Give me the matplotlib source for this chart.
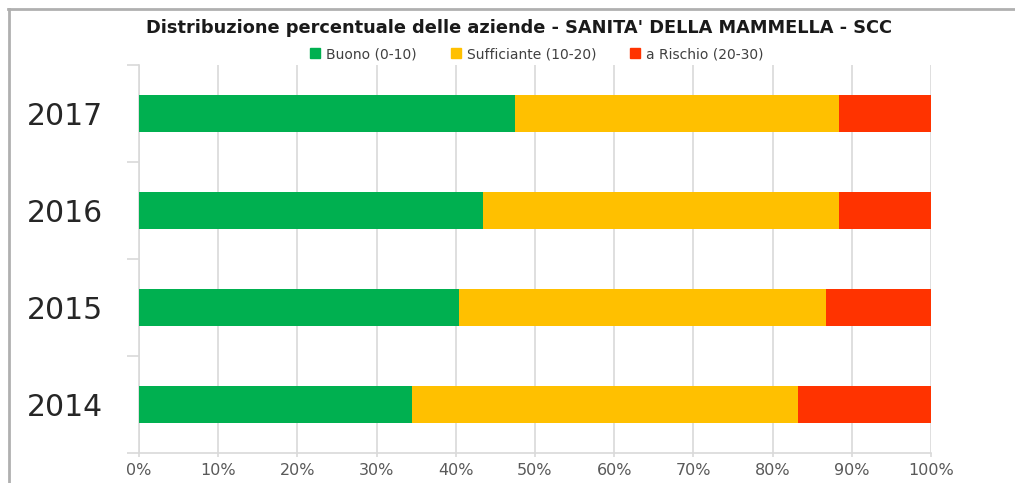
import matplotlib
matplotlib.use('Agg')
import matplotlib.pyplot as plt
from matplotlib.lines import Line2D
from matplotlib.ticker import FixedLocator, PercentFormatter

# share of farms per class (percent of total)
years = ['2014', '2015', '2016', '2017']
buono = [34.5, 40.4, 43.4, 47.5]
sufficiente = [48.7, 46.3, 45.0, 40.9]
rischio = [16.8, 13.3, 11.6, 11.6]

series_labels = ['Buono (0-10)', 'Sufficiante (10-20)', 'a Rischio (20-30)']
colors = ['#00B050', '#FFC000', '#FF3300']
title = "Distribuzione percentuale delle aziende - SANITA' DELLA MAMMELLA - SCC"

GRID = '#D9D9D9'

fig = plt.figure(figsize=(10.15, 4.83), dpi=100)
ax = fig.add_axes([139 / 1015, 1 - 453 / 483, (931 - 139) / 1015, (453 - 65) / 483])

pos = list(range(len(years)))
left = [0.0] * len(years)
for vals, c, lab in zip([buono, sufficiente, rischio], colors, series_labels):
    ax.barh(pos, vals, left=left, height=0.39, color=c, label=lab, zorder=3)
    left = [a + b for a, b in zip(left, vals)]

ax.set_xlim(0, 100)
ax.set_ylim(-0.5, len(years) - 0.5)
ax.set_xticks(range(0, 101, 10))
ax.xaxis.set_major_formatter(PercentFormatter(decimals=0))
ax.grid(True, axis='x', color=GRID, linewidth=1.2, zorder=0)
ax.set_axisbelow(True)

ax.set_yticks(pos)
ax.set_yticklabels(years)
ax.yaxis.set_minor_locator(FixedLocator([p - 0.5 for p in range(len(years) + 1)]))
ax.tick_params(axis='y', which='major', length=0, pad=26, labelsize=21.5, labelcolor='#262626')
ax.tick_params(axis='y', which='minor', length=9, width=1.2, color=GRID)
ax.tick_params(axis='x', length=3, width=1.2, color=GRID, labelsize=11.5, labelcolor='#595959', pad=4)

for side in ('top', 'right'):
    ax.spines[side].set_visible(False)
for side in ('left', 'bottom'):
    ax.spines[side].set_color(GRID)
    ax.spines[side].set_linewidth(1.2)

fig.text(0.511, 0.942, title, ha='center', va='center', fontsize=12.8,
         fontweight='bold', color='#1a1a1a')

handles = [Line2D([0], [0], marker='s', linestyle='none', markersize=7.5,
                  markerfacecolor=c, markeredgecolor=c) for c in colors]
fig.legend(handles, series_labels, loc='center', bbox_to_anchor=(0.528, 0.888), ncol=3,
           frameon=False, fontsize=10, labelcolor='#404040', handletextpad=0.3,
           columnspacing=2.3, handlelength=1.0)

# border of the screenshot (top and left edges)
fig.add_artist(Line2D([8 / 1015, 1], [1 - 9 / 483] * 2, color='#B0B0B0', linewidth=2,
                      transform=fig.transFigure))
fig.add_artist(Line2D([8.5 / 1015] * 2, [0, 1 - 9 / 483], color='#B0B0B0', linewidth=2,
                      transform=fig.transFigure))

fig.savefig('out.png', dpi=100)
